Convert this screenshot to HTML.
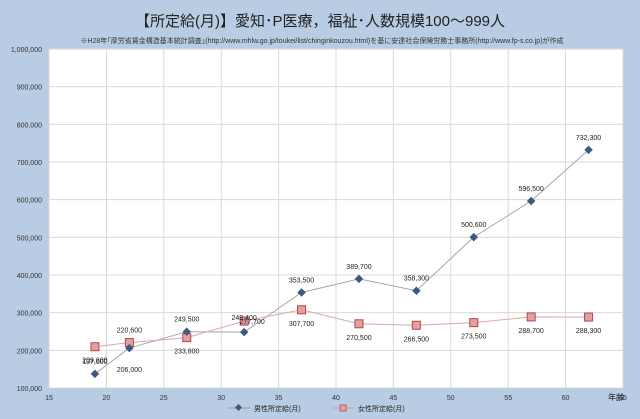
<!DOCTYPE html>
<html><head><meta charset="utf-8"><style>
body{margin:0;width:640px;height:419px;background:#b8cce4;font-family:"Liberation Sans","Noto Sans CJK JP",sans-serif;overflow:hidden}
svg{display:block}
</style></head><body>
<svg id="c" width="640" height="419">
<rect x="0" y="0" width="640" height="419" fill="#b8cce4"/>
<text x="320" y="26" text-anchor="middle" font-size="15" fill="#222">【所定給(月)】愛知･P医療，福祉･人数規模100～999人</text>
<text x="322" y="43" text-anchor="middle" font-size="7" fill="#333">※H28年｢厚労省賃金構造基本統計調査｣(http://www.mhlw.go.jp/toukei/list/chinginkouzou.html)を基に安達社会保険労務士事務所(http://www.fp-s.co.jp)が作成</text>
<rect x="49" y="49" width="574" height="339" fill="#fff"/>
<g id="grid"></g><g id="axes"></g><g id="lines"></g><g id="marks"></g><g id="labels"></g>
<text x="608" y="400" font-size="8" fill="#222">年齢</text>
<g>
<g>
<line x1="228" y1="408" x2="250" y2="408" stroke="#999" stroke-width="1"/>
<rect x="236" y="405" width="5" height="5" fill="#3a5a80" transform="rotate(45 238.5 407.5)"/>
<text x="254" y="411" font-size="7" fill="#222">男性所定給(月)</text></g>
<g>
<line x1="332" y1="408" x2="354" y2="408" stroke="#d9a0a0" stroke-width="1"/>
<rect x="340" y="405" width="6" height="6" fill="#e4a0a0" stroke="#b04848" stroke-width="0.8"/>
<text x="358" y="411" font-size="7" fill="#222">女性所定給(月)</text></g>
</g>
</svg>
<script>
const ages=[19,22,27,32,37,42,47,52,57,62];
const male=[137600,206000,249500,248400,353500,389700,358300,500600,596500,732300];
const female=[209600,220600,233800,277700,307700,270500,266500,273500,288700,288300];
const xTicks=[15,20,25,30,35,40,45,50,55,60,65];
const yTicks=[100000,200000,300000,400000,500000,600000,700000,800000,900000,1000000];
const NS="http://www.w3.org/2000/svg";
const X0=49,X1=623,Y0=388,Y1=49;
const xs=v=>X0+(v-15)/(65-15)*(X1-X0);
const ys=v=>Y0-(v-100000)/(1000000-100000)*(Y0-Y1);
const fmt=v=>v.toLocaleString('en-US');
function mk(tag,attrs,parent,txt){const e=document.createElementNS(NS,tag);for(const k in attrs)e.setAttribute(k,attrs[k]);if(txt!==undefined)e.textContent=txt;document.getElementById(parent).appendChild(e);return e;}
xTicks.forEach(t=>{
 const g=mk('line',{x1:xs(t),x2:xs(t),y1:Y1,y2:Y0,stroke:'#d9d9d9','stroke-width':1},'grid');
 
 
 const l=mk('text',{x:xs(t),y:Y0+12,'text-anchor':'middle','font-size':7,fill:'#333'},'axes',t);
 
 
});
yTicks.forEach(t=>{
 const g=mk('line',{x1:X0,x2:X1,y1:ys(t),y2:ys(t),stroke:'#d9d9d9','stroke-width':1},'grid');
 
 
 const l=mk('text',{x:42,y:ys(t)+3,'text-anchor':'end','font-size':7,fill:'#333'},'axes',fmt(t));
 
 
});
const mdy=[-10,24,-10,-12,-10,-10,-10,-10,-10,-10];
const fdy=[16,-10,16,0,16,16,16,16,16,16];
const fdx=[0,0,0,8,0,0,0,0,0,0];
const mp=ages.map((a,i)=>xs(a)+','+ys(male[i])).join(' ');
const fp=ages.map((a,i)=>xs(a)+','+ys(female[i])).join(' ');
const ml=mk('polyline',{points:mp,fill:'none',stroke:'#a6a6a6','stroke-width':1},'lines');


const fl=mk('polyline',{points:fp,fill:'none',stroke:'#d9a8a8','stroke-width':1},'lines');


ages.forEach((a,i)=>{
 const x=xs(a),yf=ys(female[i]),ym=ys(male[i]);
 const f=mk('rect',{x:x-4,y:yf-4,width:8,height:8,fill:'#e4a0a0',stroke:'#b04848','stroke-width':1},'marks');
 
 
 const m=mk('rect',{x:x-3,y:ym-3,width:6,height:6,fill:'#3a5a80',transform:`rotate(45 ${x} ${ym})`},'marks');
 
 
 const lm=mk('text',{x:x,y:ym+mdy[i],'text-anchor':'middle','font-size':7,fill:'#222'},'labels',fmt(male[i]));
 
 
 const lf=mk('text',{x:x+fdx[i],y:yf+fdy[i]+(i==3?3:0),'text-anchor':'middle','font-size':7,fill:'#222'},'labels',fmt(female[i]));
 
 
});
</script>
</body></html>
